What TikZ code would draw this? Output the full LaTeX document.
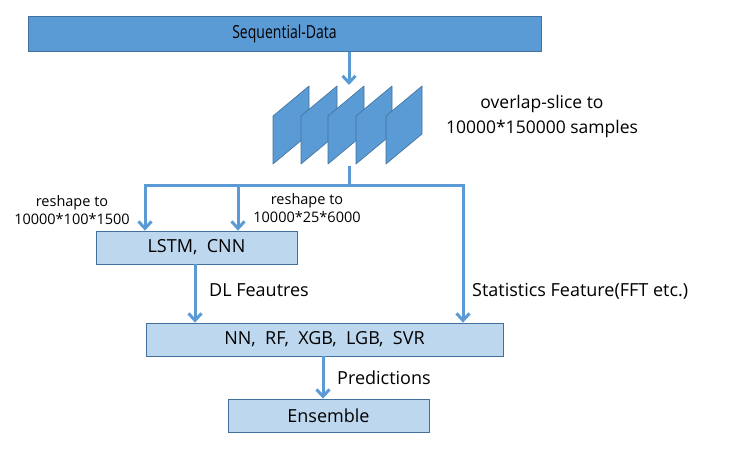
\documentclass[tikz,border=0pt]{standalone}
\usepackage{fontspec}
\setmainfont{Open Sans}
\usetikzlibrary{arrows.meta}
\definecolor{bdark}{HTML}{5B9BD5}
\definecolor{bedge}{HTML}{41719C}
\definecolor{blight}{HTML}{BDD7EE}
\tikzset{
  boxdark/.style={draw=bedge,fill=bdark,line width=0.8pt,inner sep=0pt},
  boxlight/.style={draw=bedge,fill=blight,line width=0.8pt,inner sep=0pt,font=\fontsize{18}{21}\selectfont},
  conn/.style={draw=bdark,line width=3pt},
  arr/.style={conn,-{Straight Barb[length=7pt,width=13pt,line width=3pt]}},
  lbl/.style={inner sep=0pt,align=center},
  biglbl/.style={lbl,font=\fontsize{18}{21}\selectfont},
  smalllbl/.style={lbl,font=\fontsize{14.5}{17.5}\selectfont},
  slice/.style={draw=bedge,fill=bdark,line width=0.6pt,line join=round}
}
\begin{document}
\begin{tikzpicture}[x=1pt,y=-1pt]
\useasboundingbox (0,0) rectangle (746,461);
% boxes
\node[boxdark,minimum width=513pt,minimum height=35pt,font=\fontsize{18}{21}\selectfont] (seq) at (284.5,34) {\scalebox{0.78}[1]{Sequential-Data}};
\node[boxlight,minimum width=201pt,minimum height=33pt] (lstm) at (196.5,247.5) {LSTM,\ \ CNN};
\node[boxlight,minimum width=357pt,minimum height=33pt] (nn) at (324.5,339.5) {NN,\ \ RF,\ \ XGB,\ \ LGB,\ \ SVR};
\node[boxlight,minimum width=201pt,minimum height=33pt] (ens) at (328.5,415.5) {Ensemble};
% slices
\foreach \lx in {273,301,328,356,386}{
  \draw[slice] (\lx,116) -- (\lx+36,86) -- (\lx+36,134) -- (\lx,164) -- cycle;
}
\coordinate (slin) at (349,85);
\coordinate (slout) at (349,166);
\coordinate (jm) at (349,185);
\coordinate (j1) at (145,185);
\coordinate (j2) at (238,185);
\coordinate (j3) at (463,185);
\coordinate (pcol) at (323,0);
% connectors
\draw[arr] (seq.south -| slin) -- (slin);
\draw[conn] (slout) -- (jm);
\draw[conn,line cap=butt] ([xshift=-1.5pt]j1) -- ([xshift=1.5pt]j3);
\draw[arr] ([yshift=-1.5pt]j1) -- (j1 |- lstm.north);
\draw[arr] ([yshift=-1.5pt]j2) -- (j2 |- lstm.north);
\draw[arr] ([yshift=-1.5pt]j3) -- (j3 |- nn.north);
\draw[arr] (lstm.south -| 195,0) -- (nn.north -| 195,0);
\draw[arr] (nn.south -| pcol) -- (ens.north -| pcol);
% labels
\node[lbl,font=\fontsize{17.5}{25}\selectfont] (ovl) at (542,116) {overlap-slice to\\10000*150000 samples};
\node[smalllbl] (rs1) at (72,210) {reshape to\\10000*100*1500};
\node[smalllbl] (rs2) at (307,208) {reshape to\\10000*25*6000};
\node[biglbl,anchor=west] (dlf) at (209,290) {DL Feautres};
\node[biglbl,anchor=west] (stf) at (472,291) {Statistics Feature(FFT etc.)};
\node[biglbl,anchor=west] (prd) at (337,378) {Predictions};
\end{tikzpicture}
\end{document}
